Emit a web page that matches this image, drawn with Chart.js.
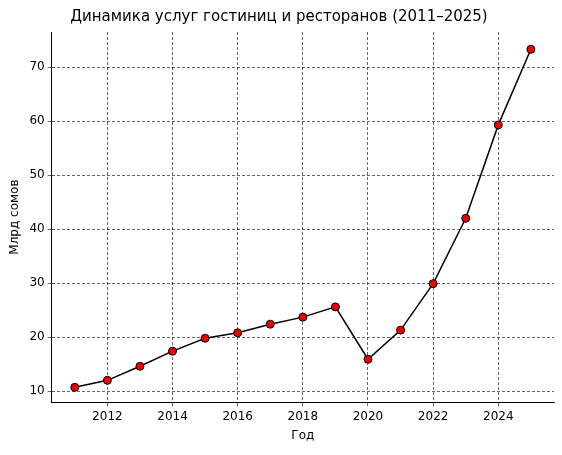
<!DOCTYPE html>
<html><head><meta charset="utf-8">
<script src="https://cdn.jsdelivr.net/npm/chart.js@4/dist/chart.umd.min.js"></script>
<style>html,body{margin:0;padding:0;background:#fff}#wrap{width:562px;height:455px}</style>
</head><body><div id="wrap"><canvas id="chart"></canvas></div>
<script>
const years = [2011,2012,2013,2014,2015,2016,2017,2018,2019,2020,2021,2022,2023,2024,2025];
const values = [10.7,12.0,14.6,17.4,19.8,20.8,22.4,23.7,25.6,15.9,21.3,29.9,42.0,59.3,73.3];
const xTicks = [2012,2014,2016,2018,2020,2022,2024];
const yTicks = [10,20,30,40,50,60,70];

const ctx = document.getElementById('chart').getContext('2d');
const font = {family:'DejaVu Sans', size:12};
const grid = {color:'#000', lineWidth:0.6, tickColor:'#000', tickLength:4};
new Chart(ctx,{
  type:'line',
  data:{datasets:[{data:years.map((y,i)=>({x:y,y:values[i]})), borderColor:'#000', borderWidth:1.5,
    pointBackgroundColor:'#e00', pointBorderColor:'#000', pointBorderWidth:1, pointRadius:4, tension:0}]},
  options:{
    responsive:true, maintainAspectRatio:false, animation:false,
    layout:{padding:{left:4,right:8,top:0,bottom:8}},
    plugins:{legend:{display:false},tooltip:{enabled:false},
      title:{display:true,text:'Динамика услуг гостиниц и ресторанов (2011–2025)',color:'#000',font:{family:'DejaVu Sans',size:15,weight:'normal'},padding:{top:8,bottom:6}}},
    scales:{
      x:{type:'linear',min:2010.29,max:2025.71,grid,border:{color:'#000',width:1,dash:[3,2]},
        afterBuildTicks:a=>{a.ticks=xTicks.map(v=>({value:v}));},
        ticks:{color:'#000',font,callback:v=>String(v),maxRotation:0},
        title:{display:true,text:'Год',color:'#000',font:{family:'DejaVu Sans',size:12},padding:{top:2}}},
      y:{min:7.95,max:76.5,grid,border:{color:'#000',width:1,dash:[3,2]},
        afterBuildTicks:a=>{a.ticks=yTicks.map(v=>({value:v}));},
        ticks:{color:'#000',font},
        title:{display:true,text:'Млрд сомов',color:'#000',font:{family:'DejaVu Sans',size:12}}}
    }
  }
});
</script></body></html>
